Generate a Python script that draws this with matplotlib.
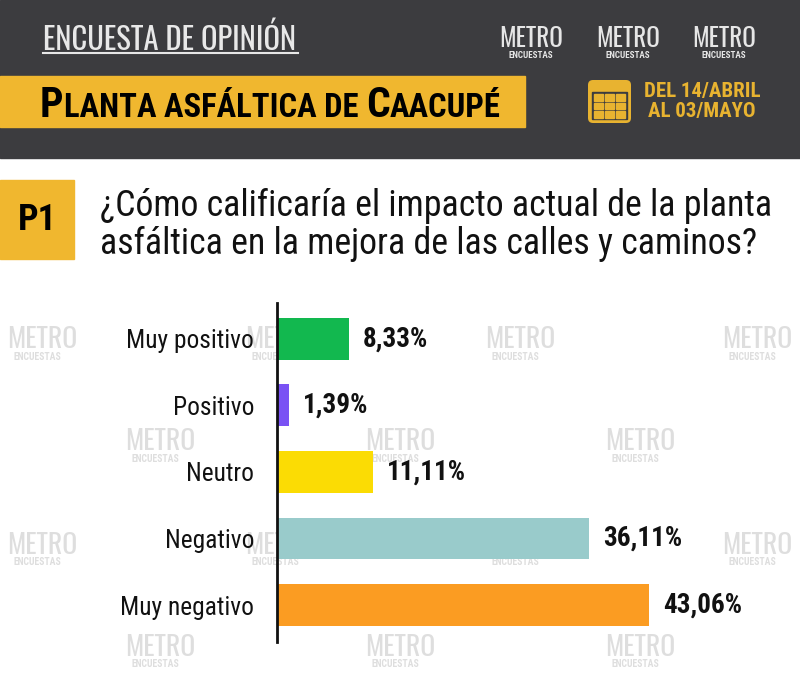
import matplotlib
matplotlib.use("Agg")
import matplotlib.pyplot as plt
from matplotlib import font_manager
from matplotlib.patches import Rectangle, FancyBboxPatch

categorias = ["Muy positivo", "Positivo", "Neutro", "Negativo", "Muy negativo"]
valores = [8.33, 1.39, 11.11, 36.11, 43.06]
etiquetas = ["8,33%", "1,39%", "11,11%", "36,11%", "43,06%"]
colores = ["#12b84f", "#7a52f4", "#fbdc04", "#99cbcb", "#fb9c22"]

titulo = "¿Cómo calificaría el impacto actual de la planta\nasfáltica en la mejora de las calles y caminos?"
encabezado = "ENCUESTA DE OPINIÓN"
# versalitas: (texto, es_mayuscula_grande)
banner = [("P", True), ("LANTA ASFÁLTICA DE ", False), ("C", True), ("AACUPÉ", False)]
fecha1 = "DEL 14/ABRIL"
fecha2 = "AL 03/MAYO"

nombres = {f.name for f in font_manager.fontManager.ttflist}


def elegir(*opciones):
    for o in opciones:
        if o in nombres:
            return [o, "DejaVu Sans"]
    return ["DejaVu Sans"]


COND = elegir("Roboto Condensed", "Archivo Narrow", "Barlow Condensed", "Asap Condensed")
TITULAR = elegir("Oswald", "Fjalla One", "Roboto Condensed", "Barlow Condensed")

fig = plt.figure(figsize=(8, 6.82), dpi=100)
fig.patch.set_facecolor("white")
renderer = fig.canvas.get_renderer()

# fondo en pixeles
bg = fig.add_axes([0, 0, 1, 1])
bg.set_xlim(0, 800)
bg.set_ylim(682, 0)
bg.axis("off")

# cabecera oscura
bg.add_patch(Rectangle((0, 0), 800, 158, color="#3c3c3f", zorder=1))
bg.add_patch(Rectangle((0, 76), 525, 51, color="#f0b72f", zorder=2))
bg.text(43, 40, encabezado, color="#e8e8e8", fontsize=22, family=TITULAR,
        fontweight="light", va="center", ha="left", zorder=3)
bg.plot([43, 298], [53, 53], color="#e8e8e8", lw=1.5, zorder=3)

x = 40
for trozo, grande in banner:
    t = bg.text(x, 117, trozo, color="black", fontsize=30 if grande else 23.5,
                fontweight="heavy", family=COND, va="baseline", ha="left", zorder=3)
    x += t.get_window_extent(renderer).width

# logos METRO
for cx in [537, 634, 730]:
    bg.text(cx - 6, 39, "METRO", color="#e6e6e6", fontsize=18, fontweight="bold",
            family=TITULAR, ha="center", va="center", zorder=3)
    bg.text(cx - 6, 56, "ENCUESTAS", color="#e6e6e6", fontsize=6.5, fontweight="bold",
            family=COND, ha="center", va="center", zorder=3)

# calendario
amarillo = "#e8b330"
bg.add_patch(FancyBboxPatch((588, 80), 43, 43, boxstyle="round,pad=0,rounding_size=5",
                            fc=amarillo, ec="none", zorder=3))
bg.add_patch(Rectangle((592, 92), 35, 27, color="#3c3c3f", zorder=4))
for fila in range(3):
    for col in range(3):
        bg.add_patch(Rectangle((594 + col * 11, 94 + fila * 8.5), 9, 6.5,
                               color=amarillo, zorder=5))
bg.text(702, 92, fecha1, color=amarillo, fontsize=15, fontweight="bold",
        family=COND, ha="center", va="center", zorder=3)
bg.text(702, 111, fecha2, color=amarillo, fontsize=15, fontweight="bold",
        family=COND, ha="center", va="center", zorder=3)

# marcas de agua
marcas = [(42, 345), (280, 345), (520, 345), (757, 345),
          (160, 447), (400, 447), (640, 447),
          (42, 550), (280, 550), (520, 550), (757, 550),
          (160, 652), (400, 652), (640, 652)]
for mx, my in marcas:
    bg.text(mx, my - 5, "METRO", color="#dedede", fontsize=20, fontweight="bold",
            family=TITULAR, ha="center", va="center", zorder=1)
    bg.text(mx - 5, my + 12, "ENCUESTAS", color="#dedede", fontsize=7, fontweight="bold",
            family=COND, ha="center", va="center", zorder=1)

# P1
bg.add_patch(Rectangle((0, 180), 74, 79, color="#f0b72f", zorder=2))
bg.text(37, 220, "P1", color="black", fontsize=26, fontweight="bold",
        family=COND, ha="center", va="center", zorder=3)
bg.text(100, 225, titulo, color="#111111", fontsize=25.8, family=COND,
        ha="left", va="center", linespacing=1.08, zorder=3)

# grafico de barras
ax = fig.add_axes([277 / 800, 1 - 642 / 682, 523 / 800, 339 / 682])
ax.patch.set_alpha(0)
pos = list(range(len(categorias)))
ax.barh(pos, valores, height=0.63, color=colores, zorder=2)
ax.set_xlim(0, 523 / 8.64)
ax.set_ylim(4.556, -0.54)
for p, v, t in zip(pos, valores, etiquetas):
    ax.text(v + 1.65, p, t, fontsize=19.5, fontweight="bold", family=COND,
            ha="left", va="center", color="#111111")
ax.set_yticks(pos)
ax.set_yticklabels(categorias, fontsize=18.3, family=COND, color="#111111")
ax.tick_params(axis="y", length=0, pad=16.5)
ax.set_xticks([])
for s in ["top", "right", "bottom"]:
    ax.spines[s].set_visible(False)
ax.spines["left"].set_linewidth(2)
ax.spines["left"].set_color("#111111")

fig.savefig("out.png", dpi=100)
